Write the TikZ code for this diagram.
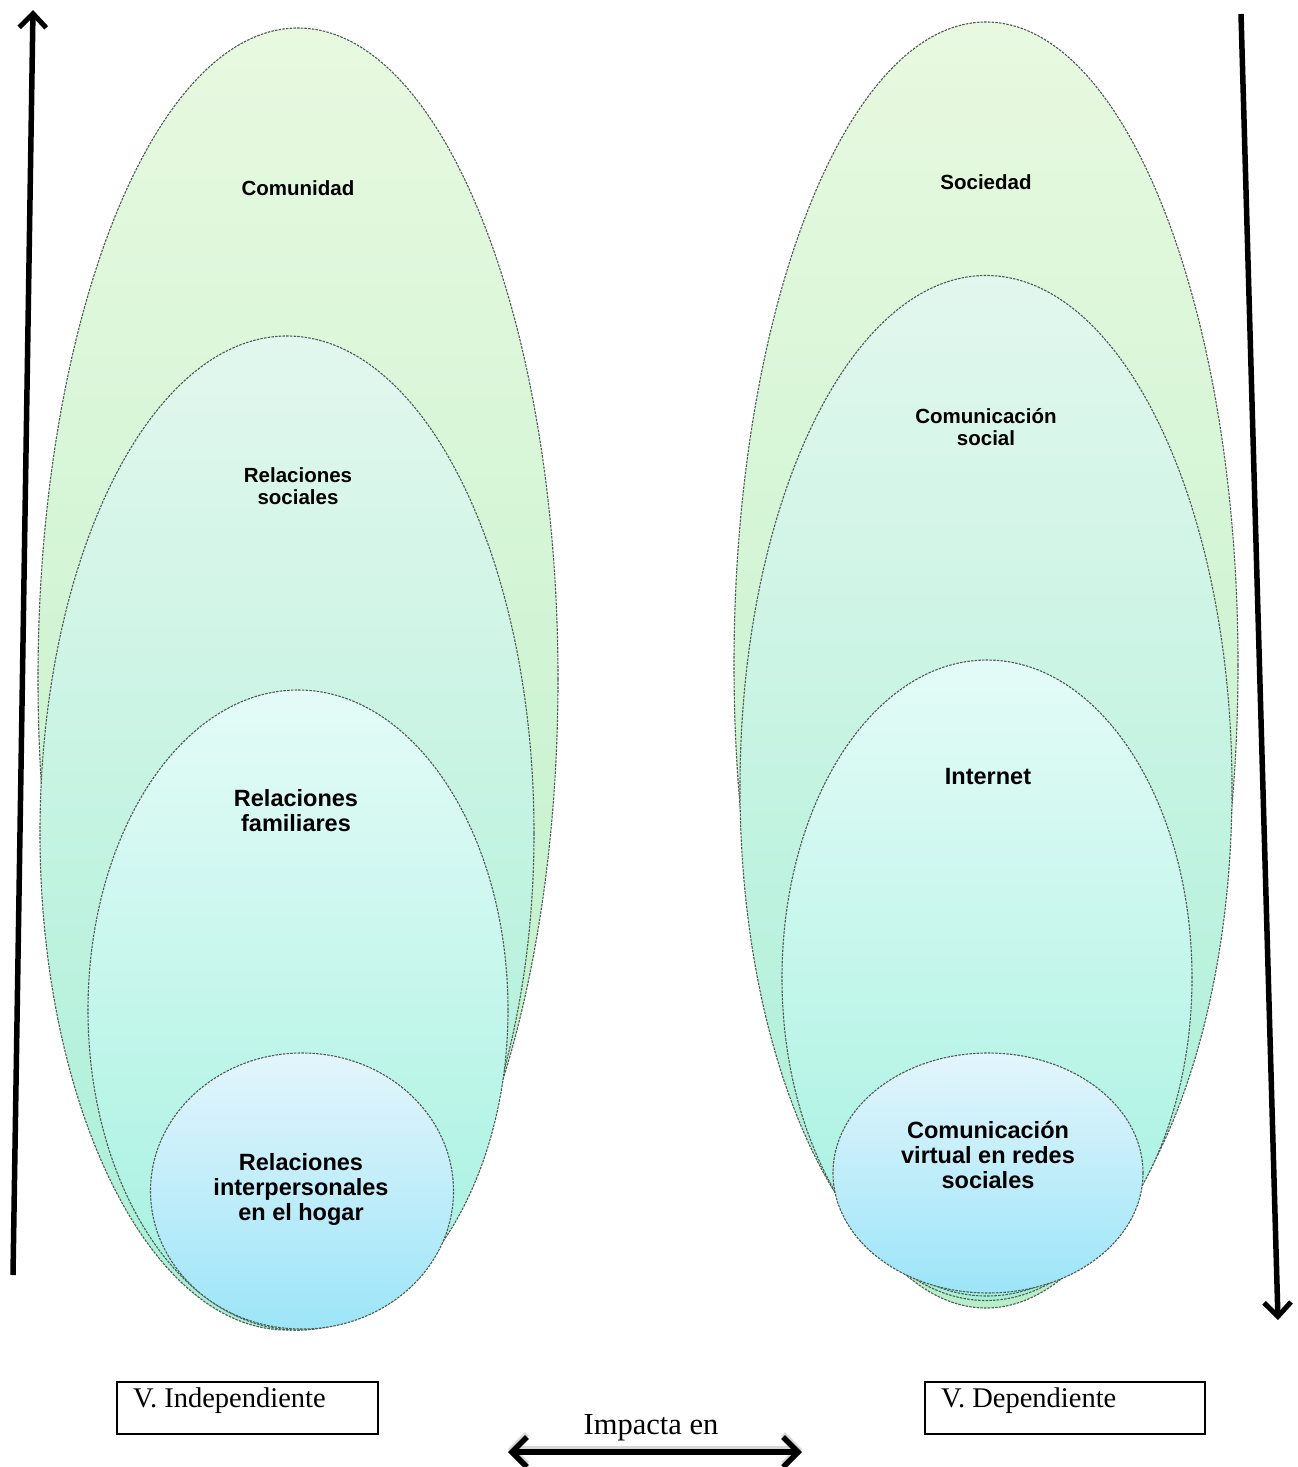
\documentclass[tikz,border=0pt]{standalone}
\usepackage{fontspec}
\setmainfont{Liberation Serif}
\newfontfamily\arialb{Liberation Sans}[BoldFont={* Bold}]
\usetikzlibrary{shapes.geometric,arrows.meta}
\definecolor{dashgray}{HTML}{4E5A54}
\definecolor{aTop}{HTML}{E8F9E0}
\definecolor{aBot}{HTML}{B8EFC8}
\definecolor{bTop}{HTML}{E2F7EE}
\definecolor{bBot}{HTML}{A6EFD6}
\definecolor{cTop}{HTML}{E4FBF7}
\definecolor{cBot}{HTML}{A2F1DF}
\definecolor{dTop}{HTML}{E4F5FC}
\definecolor{dBot}{HTML}{9CE5F8}
\tikzset{
  blob/.style={ellipse, inner sep=0pt, draw=dashgray, line width=1.1pt, dash pattern=on 2.5pt off 1.2pt},
  lvA/.style={blob, top color=aTop, bottom color=aBot},
  lvB/.style={blob, top color=bTop, bottom color=bBot},
  lvC/.style={blob, top color=cTop, bottom color=cBot},
  lvD/.style={blob, top color=dTop, bottom color=dBot},
  lblS/.style={font=\arialb\bfseries\fontsize{20.5}{22.5}\selectfont, align=center, inner sep=0pt},
  lblL/.style={font=\arialb\bfseries\fontsize{23.5}{25}\selectfont, align=center, inner sep=0pt},
  vbox/.style={draw=black, line width=2pt, minimum width=261pt, minimum height=52pt, inner sep=0pt},
  vtxt/.style={font=\fontsize{28.5}{30}\selectfont, inner sep=0pt, anchor=west},
  tipx/.tip={Straight Barb[length=15pt,width=30pt,line width=5.5pt]},
  bigarrow/.style={line width=5.5pt, -{Straight Barb[length=14pt,width=27pt,line width=5pt]}},
  dblarrow/.style={line width=6pt, tipx-tipx},
}
\begin{document}
\begin{tikzpicture}[x=1pt,y=-1pt]
\useasboundingbox[fill=white] (0,0) rectangle (1298,1467);

% left nest
\node[lvA, minimum width=520pt, minimum height=1302pt] (lA) at (298,679) {};
\node[lvB, minimum width=494pt, minimum height=994pt] (lB) at (287,833) {};
\node[lvC, minimum width=420pt, minimum height=640pt] (lC) at (298,1010) {};
\node[lvD, minimum width=303pt, minimum height=276pt] (lD) at (302,1191) {};

\node[lblS] (tA) at (298,188) {Comunidad};
\node[lblS] (tB) at (298,486) {Relaciones\\sociales};
\node[lblL] (tC) at (296,811) {Relaciones\\familiares};
\node[lblL] (tD) at (301,1189) {Relaciones\\interpersonales\\en el hogar};

% right nest
\node[lvA, minimum width=504pt, minimum height=1286pt] (rA) at (986,665) {};
\node[lvB, minimum width=492pt, minimum height=1025pt] (rB) at (986,788) {};
\node[lvC, minimum width=410pt, minimum height=636pt] (rC) at (987,978) {};
\node[lvD, minimum width=310pt, minimum height=240pt] (rD) at (988,1173) {};

\node[lblS] (sA) at (986,182) {Sociedad};
\node[lblS] (sB) at (986,427) {Comunicación\\social};
\node[lblL] (sC) at (988,777) {Internet};
\node[lblL] (sD) at (988,1155) {Comunicación\\virtual en redes\\sociales};

% vertical arrows
\coordinate (la0) at (13,1275);
\coordinate (la1) at (33,10);
\draw[bigarrow] (la0) -- (la1);
\coordinate (ra0) at (1241,14);
\coordinate (ra1) at (1278,1320);
\draw[bigarrow] (ra0) -- (ra1);

% boxes
\node[vbox] (bI) at (247.5,1408) {};
\node[vtxt] (bIt) at (133,1401) {V. Independiente};
\node[vbox, minimum width=280pt] (bD) at (1065,1408) {};
\node[vtxt] (bDt) at (941,1401) {V. Dependiente};

% impacta
\node[font=\fontsize{30.5}{32}\selectfont, inner sep=0pt] (imp) at (651,1428) {Impacta en};
\coordinate (ia0) at (508,1452);
\coordinate (ia1) at (802,1452);
\draw[dblarrow, black!25, opacity=0.6] ([yshift=3pt]ia0) -- ([yshift=3pt]ia1);
\draw[dblarrow] (ia0) -- (ia1);
\end{tikzpicture}
\end{document}
